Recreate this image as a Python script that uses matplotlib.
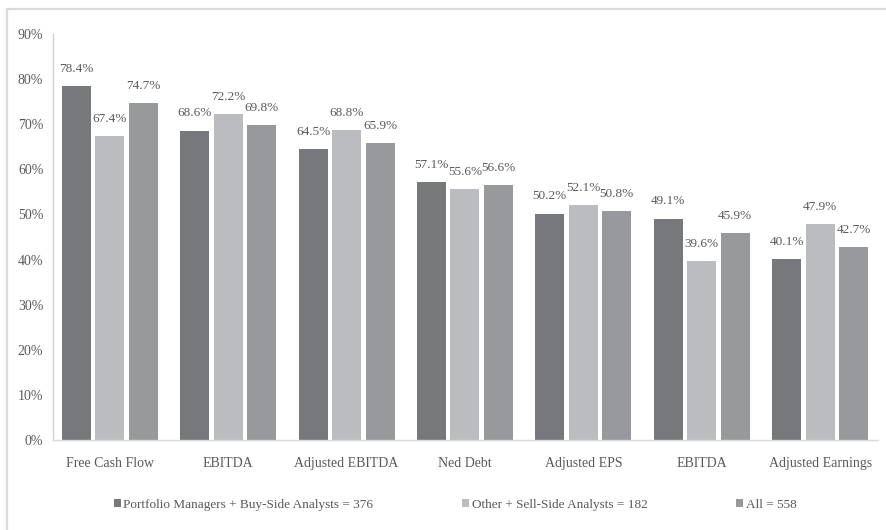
import numpy as np
import matplotlib
matplotlib.use("Agg")
import matplotlib.pyplot as plt
from matplotlib.patches import Rectangle

# datos
categorias = ["Free Cash Flow", "EBITDA", "Adjusted EBITDA", "Ned Debt",
              "Adjusted EPS", "EBITDA", "Adjusted Earnings"]
pm_buy_side = [78.4, 68.6, 64.5, 57.1, 50.2, 49.1, 40.1]
sell_side = [67.4, 72.2, 68.8, 55.6, 52.1, 39.6, 47.9]
todos = [74.7, 69.8, 65.9, 56.6, 50.8, 45.9, 42.7]
series_nombres = ["Portfolio Managers + Buy-Side Analysts = 376",
                  "Other + Sell-Side Analysts = 182",
                  "All = 558"]
y_ticks = [0, 10, 20, 30, 40, 50, 60, 70, 80, 90]

colores = ["#77787c", "#bbbcc0", "#98999d"]
texto_color = "#595959"

plt.rcParams['font.family'] = ['Liberation Serif', 'DejaVu Serif']

fig = plt.figure(figsize=(8.87, 5.30), dpi=100)
ax = fig.add_axes([0.0598, 0.1698, 0.9302, 0.766])

# marco gris claro alrededor
fig.patches.append(Rectangle((7 / 887, -0.2), 1.2, 0.2 + (530 - 9) / 530,
                             transform=fig.transFigure, fill=False,
                             edgecolor="#dadada", linewidth=1.6))

x = np.arange(len(categorias))
ancho = 0.245
paso = 0.283
for i, valores in enumerate([pm_buy_side, sell_side, todos]):
    barras = ax.bar(x + (i - 1) * paso, valores, width=ancho, color=colores[i],
                    label=series_nombres[i])
    for b, v in zip(barras, valores):
        ax.annotate(f"{v:.1f}%", (b.get_x() + b.get_width() / 2, v),
                    xytext=(0, 8), textcoords="offset points",
                    ha="center", va="bottom", fontsize=9.5, color=texto_color)

ax.set_xlim(-0.48, 6.49)
ax.set_ylim(0, 90)
ax.set_yticks(y_ticks)
ax.set_yticklabels([f"{t}%" for t in y_ticks])
ax.set_xticks(x)
ax.set_xticklabels(categorias)
ax.tick_params(axis="both", length=0, labelsize=10, colors=texto_color)
ax.tick_params(axis="x", pad=12)
ax.tick_params(axis="y", pad=7)

for lado in ["top", "right"]:
    ax.spines[lado].set_visible(False)
ax.spines["left"].set_color("#d0d0d0")
ax.spines["bottom"].set_color("#d9d9d9")
ax.spines["left"].set_linewidth(1.0)
ax.spines["bottom"].set_linewidth(1.0)

leg = fig.legend(loc="center", bbox_to_anchor=(0.513, 0.047), ncol=3,
                 frameon=False, fontsize=9.5, handlelength=0.55, handleheight=0.55,
                 handletextpad=0.2, columnspacing=6.7)
for t in leg.get_texts():
    t.set_color(texto_color)

fig.savefig("out.png", dpi=100)
